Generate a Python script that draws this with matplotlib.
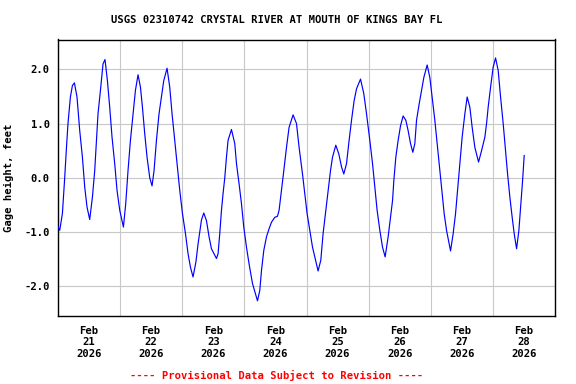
import matplotlib
matplotlib.use("Agg")
import matplotlib.pyplot as plt
import matplotlib.dates as mdates
import pandas as pd

# readings: hours after 2026-02-21 00:00, gage height in feet
HOURS = [
    0.00, 0.66, 1.70, 2.59, 3.25, 3.86, 4.79, 5.57, 6.34, 7.34,
    8.39, 9.43, 10.32, 11.21, 12.25, 13.29, 14.18, 14.84, 15.46, 16.39,
    17.39, 18.16, 19.09, 19.98, 20.87, 21.91, 22.80, 23.85, 25.27, 26.16,
    27.05, 27.98, 28.99, 29.91, 30.92, 31.85, 32.62, 33.51, 34.40, 35.44,
    36.33, 37.10, 38.03, 39.03, 39.96, 40.85, 42.13, 43.17, 44.06, 45.10,
    46.14, 47.03, 48.08, 49.24, 50.24, 51.17, 52.17, 53.29, 54.11, 54.76,
    55.42, 56.31, 57.35, 58.36, 59.28, 61.22, 61.84, 62.49, 63.15, 63.77,
    64.43, 65.08, 65.70, 67.01, 68.29, 68.95, 69.95, 70.88, 71.77, 72.81,
    73.82, 75.13, 77.06, 77.95, 78.61, 79.50, 80.54, 81.55, 82.47, 83.75,
    84.79, 85.41, 86.34, 87.23, 88.27, 89.27, 90.82, 92.13, 93.14, 94.45,
    95.34, 96.23, 97.27, 98.32, 100.48, 101.53, 102.41, 103.46, 104.35, 105.27,
    106.05, 107.32, 108.48, 109.53, 110.41, 111.46, 112.46, 113.39, 114.39, 115.32,
    116.87, 118.14, 119.19, 120.46, 121.51, 122.40, 123.28, 124.33, 125.37, 126.38,
    127.54, 128.46, 129.24, 129.74, 130.51, 131.40, 132.33, 133.33, 134.38, 135.26,
    136.19, 137.08, 137.85, 138.51, 139.52, 140.44, 141.33, 142.61, 143.65, 144.54,
    145.58, 146.63, 147.51, 148.40, 149.18, 150.10, 151.65, 152.66, 153.58, 154.36,
    155.24, 156.13, 157.18, 158.07, 159.11, 160.00, 161.04, 162.47, 163.63, 164.91,
    165.56, 166.18, 167.11, 168.11, 169.04, 170.05, 170.97, 171.98, 172.91, 173.68,
    174.57, 175.46, 176.23, 177.16, 178.05, 178.71, 179.48, 180.10,
]
GAGE_FT = [
    -0.90, -0.97, -0.66, 0.00, 0.54, 1.00, 1.49, 1.70, 1.75, 1.49,
    0.87, 0.38, -0.17, -0.54, -0.77, -0.36, 0.13, 0.69, 1.18, 1.61,
    2.10, 2.18, 1.79, 1.30, 0.75, 0.26, -0.23, -0.60, -0.91, -0.48,
    0.13, 0.69, 1.18, 1.61, 1.90, 1.67, 1.30, 0.81, 0.38, 0.00,
    -0.15, 0.13, 0.69, 1.18, 1.49, 1.79, 2.02, 1.67, 1.18, 0.69,
    0.20, -0.23, -0.66, -1.03, -1.40, -1.65, -1.83, -1.55, -1.22, -1.00,
    -0.78, -0.65, -0.79, -1.09, -1.31, -1.49, -1.40, -1.03, -0.60, -0.29,
    0.00, 0.38, 0.69, 0.89, 0.63, 0.26, -0.11, -0.48, -0.91, -1.28,
    -1.59, -1.95, -2.27, -2.08, -1.71, -1.34, -1.09, -0.94, -0.82, -0.73,
    -0.71, -0.60, -0.23, 0.13, 0.56, 0.93, 1.16, 1.00, 0.56, 0.07,
    -0.29, -0.66, -0.97, -1.28, -1.72, -1.52, -1.03, -0.60, -0.23, 0.13,
    0.38, 0.60, 0.44, 0.20, 0.07, 0.26, 0.69, 1.06, 1.42, 1.64,
    1.82, 1.55, 1.18, 0.69, 0.26, -0.17, -0.60, -0.97, -1.28, -1.46,
    -1.09, -0.73, -0.42, -0.05, 0.38, 0.69, 0.96, 1.14, 1.06, 0.87,
    0.63, 0.47, 0.63, 1.06, 1.36, 1.61, 1.85, 2.08, 1.85, 1.49,
    1.06, 0.56, 0.13, -0.29, -0.66, -0.97, -1.35, -1.03, -0.66, -0.23,
    0.26, 0.75, 1.18, 1.49, 1.30, 0.93, 0.56, 0.29, 0.50, 0.75,
    1.00, 1.30, 1.67, 2.04, 2.21, 1.98, 1.49, 1.00, 0.50, 0.07,
    -0.36, -0.73, -1.03, -1.31, -0.97, -0.54, -0.05, 0.41,
]
START = pd.Timestamp("2026-02-21")
END = pd.Timestamp("2026-03-01")
Y_TICKS = [-2.0, -1.0, 0.0, 1.0, 2.0]
TITLE = "USGS 02310742 CRYSTAL RIVER AT MOUTH OF KINGS BAY FL"
FOOTER = "---- Provisional Data Subject to Revision ----"

FONT = dict(family="DejaVu Sans Mono", weight="bold", size=7.6)

times = START + pd.to_timedelta(HOURS, unit="h")

fig = plt.figure(figsize=(5.76, 3.84), dpi=100)
ax = fig.add_axes([58 / 576, 68 / 384, 497 / 576, 276.5 / 384])

ax.plot(times, GAGE_FT, color="#0000ff", linewidth=0.85, zorder=3)

ax.set_xlim(START, END)
ax.set_ylim(-2.55, 2.55)

# gridlines at midnight, labels at noon
ax.xaxis.set_major_locator(mdates.DayLocator())
ax.xaxis.set_major_formatter(plt.NullFormatter())
ax.xaxis.set_minor_locator(mdates.HourLocator(byhour=12))
ax.xaxis.set_minor_formatter(mdates.DateFormatter("%b\n%d\n%Y"))
ax.set_yticks(Y_TICKS)
ax.set_yticklabels([f"{v:.1f}" for v in Y_TICKS])

ax.tick_params(axis="both", which="both", length=0)
ax.tick_params(axis="x", which="minor", pad=7)
ax.tick_params(axis="y", pad=6)
for lab in ax.get_xticklabels(minor=True) + ax.get_yticklabels():
    lab.set_fontfamily(FONT["family"])
    lab.set_fontweight(FONT["weight"])
    lab.set_fontsize(FONT["size"])

ax.grid(True, which="major", color="#c8c8c8", linewidth=0.8, zorder=0)
for sp in ax.spines.values():
    sp.set_color("black")
    sp.set_linewidth(1.0)

ax.set_ylabel("Gage height, feet", labelpad=7, **FONT)
fig.text(277 / 576, 1 - 20 / 384, TITLE, ha="center", va="center", **FONT)
fig.text(277 / 576, 1 - 375 / 384, FOOTER, ha="center", va="center",
         color="red", **FONT)

fig.savefig("out.png", dpi=100)
